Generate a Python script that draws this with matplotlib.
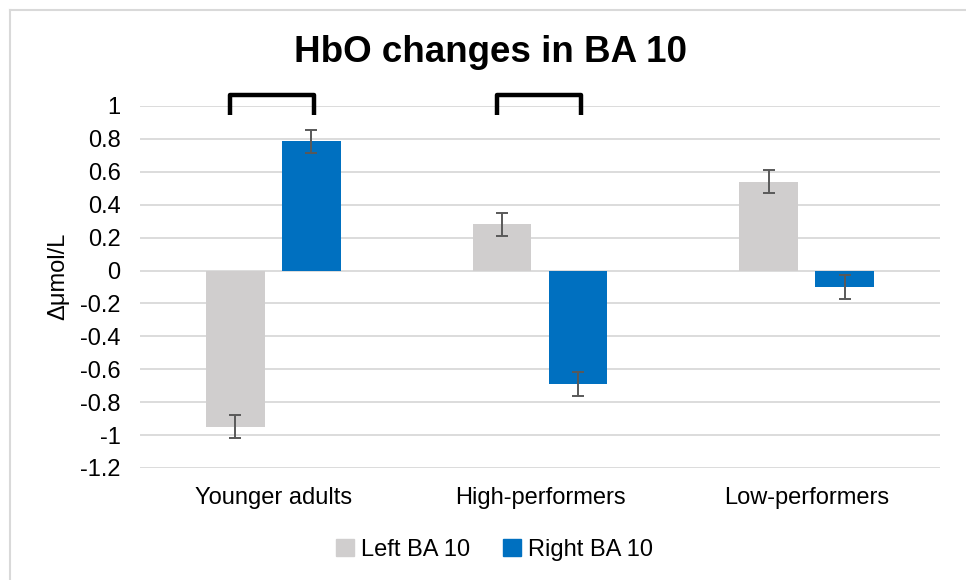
import matplotlib.pyplot as plt
from matplotlib.patches import Patch
from matplotlib.lines import Line2D

plt.rcParams['font.family'] = ['Liberation Sans', 'DejaVu Sans']

groups = ['Younger adults', 'High-performers', 'Low-performers']
left_ba10 = [-0.95, 0.28, 0.54]
right_ba10 = [0.785, -0.69, -0.10]
left_err = [0.07, 0.07, 0.07]
right_err = [0.072, 0.074, 0.073]
series_names = ['Left BA 10', 'Right BA 10']
bracket_groups = [0, 1]  # groups with a significance bracket

grey = '#D0CECE'
blue = '#0070C0'
width = 0.22
off = 0.142

fig = plt.figure(figsize=(9.66, 5.8), dpi=100)
ax = fig.add_axes([140 / 966, 1 - 468 / 580, 800 / 966, 362 / 580])

x = list(range(len(groups)))
ax.bar([i - off for i in x], left_ba10, width, color=grey, zorder=2)
ax.bar([i + off for i in x], right_ba10, width, color=blue, zorder=2)
ax.errorbar([i - off for i in x], left_ba10, yerr=left_err, fmt='none',
            ecolor='#595959', elinewidth=1.4, capsize=4.4, capthick=1.4, zorder=3)
ax.errorbar([i + off for i in x], right_ba10, yerr=right_err, fmt='none',
            ecolor='#595959', elinewidth=1.4, capsize=4.4, capthick=1.4, zorder=3)

# brackets over the significant pairs
for g in bracket_groups:
    ax.plot([g - 0.162, g - 0.162, g + 0.152, g + 0.152],
            [0.948, 1.065, 1.065, 0.948], color='black', lw=3.2,
            solid_joinstyle='round', solid_capstyle='butt', clip_on=False, zorder=4)

ax.set_xlim(-0.5, 2.5)
ax.set_ylim(-1.2, 1.0)
ax.set_yticks([1.0, 0.8, 0.6, 0.4, 0.2, 0, -0.2, -0.4, -0.6, -0.8, -1.0, -1.2])
ax.set_yticklabels(['1', '0.8', '0.6', '0.4', '0.2', '0', '-0.2', '-0.4',
                    '-0.6', '-0.8', '-1', '-1.2'])
ax.set_xticks(x)
ax.set_xticklabels(groups)
ax.tick_params(axis='both', length=0, labelsize=17, colors='#000000')
ax.tick_params(axis='y', pad=14)
ax.tick_params(axis='x', pad=14)
ax.grid(axis='y', color='#D9D9D9', lw=1.3, zorder=0)
ax.set_axisbelow(True)
for s in ax.spines.values():
    s.set_visible(False)

ax.set_ylabel('Δμmol/L', fontsize=17)
ax.yaxis.set_label_coords(-0.089, 0.53)

fig.text(0.5075, 1 - 53 / 580, 'HbO changes in BA 10', ha='center', va='center',
         fontsize=26.5, fontweight='bold')

handles = [Patch(color=grey), Patch(color=blue)]
fig.legend(handles, series_names, loc='center', bbox_to_anchor=(0.512, 1 - 550 / 580),
           ncol=2, frameon=False, fontsize=17, handlelength=0.75, handleheight=0.75,
           handletextpad=0.3, columnspacing=1.4)

# chart area border
fig.add_artist(Line2D([10 / 966, 10 / 966], [0, 1 - 10 / 580], color='#D9D9D9', lw=1.5))
fig.add_artist(Line2D([10 / 966, 1], [1 - 10 / 580, 1 - 10 / 580], color='#D9D9D9', lw=1.5))

fig.savefig('out.png', dpi=100)
